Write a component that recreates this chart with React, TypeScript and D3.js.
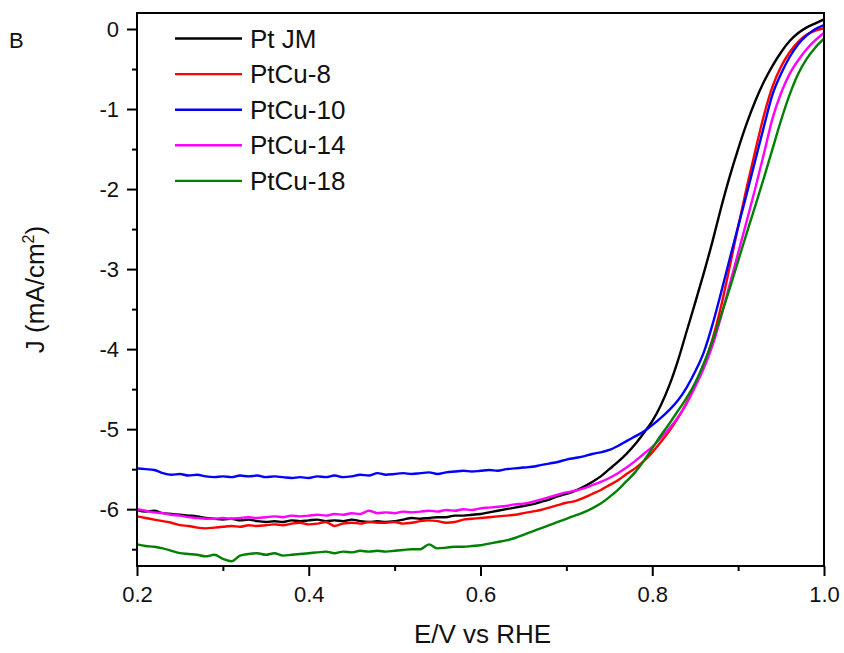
import React, { useEffect, useRef } from 'react'
import * as d3 from 'd3'

// potential axis, 0.20 .. 1.00 V in 0.01 steps
const potentials: number[] = d3.range(81).map((i) => +(0.2 + i * 0.01).toFixed(2))

const seriesNames = ['Pt JM', 'PtCu-8', 'PtCu-10', 'PtCu-14', 'PtCu-18']
const seriesColors = ['#000000', '#ff0000', '#0000ff', '#ff00ff', '#008000']

const ptJM = [
  -6.01, -6.03, -6.02, -6.05, -6.06, -6.07, -6.08, -6.09, -6.11, -6.12,
  -6.13, -6.12, -6.14, -6.13, -6.15, -6.16, -6.15, -6.16, -6.14, -6.15,
  -6.14, -6.13, -6.15, -6.14, -6.15, -6.13, -6.15, -6.16, -6.15, -6.16,
  -6.15, -6.13, -6.11, -6.12, -6.11, -6.1, -6.1, -6.08, -6.08, -6.07,
  -6.06, -6.04, -6.02, -6.0, -5.98, -5.96, -5.94, -5.91, -5.88, -5.84,
  -5.81, -5.77, -5.72, -5.66, -5.59, -5.5, -5.41, -5.31, -5.19, -5.05,
  -4.9, -4.7, -4.45, -4.14, -3.78, -3.42, -3.05, -2.66, -2.24, -1.85,
  -1.5, -1.18, -0.9, -0.66, -0.46, -0.29, -0.15, -0.05, 0.02, 0.07,
  0.12,
]

const ptCu8 = [
  -6.09, -6.11, -6.13, -6.15, -6.17, -6.2, -6.21, -6.23, -6.24, -6.23,
  -6.22, -6.21, -6.22, -6.2, -6.21, -6.2, -6.19, -6.2, -6.18, -6.17,
  -6.19, -6.18, -6.16, -6.21, -6.18, -6.17, -6.18, -6.16, -6.17, -6.17,
  -6.16, -6.18, -6.17, -6.15, -6.14, -6.15, -6.17, -6.16, -6.13, -6.12,
  -6.11, -6.1, -6.09, -6.08, -6.07, -6.05, -6.03, -6.01, -5.98, -5.95,
  -5.92, -5.9, -5.86, -5.81, -5.76, -5.7, -5.64, -5.56, -5.49, -5.4,
  -5.29, -5.16, -5.02, -4.86, -4.67, -4.45, -4.2, -3.88, -3.47, -2.98,
  -2.47, -1.98, -1.52, -1.08, -0.72, -0.47, -0.29, -0.16, -0.07, -0.02,
  0.01,
]

const ptCu10 = [
  -5.49, -5.5, -5.51, -5.55, -5.57, -5.56, -5.58, -5.57, -5.59, -5.6,
  -5.59, -5.6, -5.58, -5.59, -5.58, -5.6, -5.59, -5.6, -5.61, -5.6,
  -5.61, -5.59, -5.6, -5.58, -5.6, -5.59, -5.57, -5.58, -5.55, -5.57,
  -5.56, -5.55, -5.56, -5.55, -5.54, -5.56, -5.54, -5.53, -5.52, -5.53,
  -5.52, -5.51, -5.52, -5.5, -5.49, -5.48, -5.47, -5.45, -5.43, -5.41,
  -5.38, -5.36, -5.34, -5.31, -5.29, -5.26, -5.21, -5.15, -5.09, -5.03,
  -4.95, -4.86, -4.76, -4.64, -4.48, -4.28, -4.04, -3.7, -3.3, -2.88,
  -2.47, -2.06, -1.64, -1.22, -0.82, -0.56, -0.35, -0.19, -0.08, 0.0,
  0.05,
]

const ptCu14 = [
  -6.0, -6.02, -6.04, -6.05, -6.07, -6.08, -6.1, -6.11, -6.12, -6.12,
  -6.11, -6.12, -6.11, -6.1, -6.11, -6.1, -6.09, -6.1, -6.08, -6.09,
  -6.08, -6.07, -6.08, -6.06, -6.07, -6.05, -6.06, -6.02, -6.05, -6.04,
  -6.05, -6.03, -6.04, -6.03, -6.02, -6.03, -6.01, -6.02, -6.0, -6.01,
  -5.99, -5.98, -5.97, -5.96, -5.94, -5.93, -5.91, -5.88, -5.85, -5.82,
  -5.79, -5.77, -5.74, -5.7, -5.66, -5.61, -5.55, -5.48, -5.4, -5.31,
  -5.22, -5.11, -4.99, -4.85, -4.68, -4.47, -4.24, -3.96, -3.6, -3.2,
  -2.8, -2.4, -1.99, -1.56, -1.12, -0.8, -0.56, -0.39, -0.25, -0.14,
  -0.05,
]

const ptCu18 = [
  -6.44, -6.46, -6.47, -6.49, -6.52, -6.55, -6.56, -6.57, -6.59, -6.57,
  -6.62, -6.65, -6.58, -6.56, -6.55, -6.57, -6.55, -6.58, -6.57, -6.56,
  -6.55, -6.54, -6.53, -6.55, -6.53, -6.54, -6.52, -6.53, -6.52, -6.53,
  -6.52, -6.51, -6.5, -6.5, -6.44, -6.49, -6.48, -6.47, -6.47, -6.46,
  -6.45, -6.43, -6.41, -6.39, -6.36, -6.32, -6.28, -6.24, -6.2, -6.16,
  -6.12, -6.08, -6.04, -5.99, -5.93, -5.85, -5.76, -5.65, -5.54, -5.4,
  -5.24, -5.08, -4.93, -4.77, -4.61, -4.42, -4.18, -3.9, -3.58, -3.25,
  -2.9, -2.55, -2.21, -1.86, -1.5, -1.14, -0.82, -0.56, -0.37, -0.23,
  -0.12,
]

const seriesValues = [ptJM, ptCu8, ptCu10, ptCu14, ptCu18]

const xTicks = [0.2, 0.4, 0.6, 0.8, 1.0]
const xMinorTicks = [0.3, 0.5, 0.7, 0.9]
const yTicks = [0, -1, -2, -3, -4, -5, -6]
const yMinorTicks = [-0.5, -1.5, -2.5, -3.5, -4.5, -5.5, -6.5]

const App = () => {
  const ref = useRef<SVGSVGElement>(null)

  useEffect(() => {
    const width = 844
    const height = 653
    const left = 137
    const right = 824
    const top = 13
    const bottom = 566
    const font = 'Arial, "Liberation Sans", sans-serif'

    const svg = d3.select(ref.current)
    svg.selectAll('*').remove()
    svg.attr('width', width).attr('height', height)

    const x = d3.scaleLinear().domain([0.2, 1.0]).range([left, right])
    const y = d3.scaleLinear().domain([-6.71, 0.2]).range([bottom, top])

    svg.append('rect').attr('width', width).attr('height', height).attr('fill', '#fff')

    svg.append('defs').append('clipPath').attr('id', 'plotClip')
      .append('rect')
      .attr('x', left).attr('y', top)
      .attr('width', right - left).attr('height', bottom - top)

    /* curves */
    const line = d3.line<number>()
      .x((_, i) => x(potentials[i]))
      .y((d) => y(d))
      .curve(d3.curveMonotoneX)

    const curves = svg.append('g').attr('clip-path', 'url(#plotClip)')
    seriesValues.forEach((vals, i) => {
      curves.append('path')
        .attr('d', line(vals))
        .attr('fill', 'none')
        .attr('stroke', seriesColors[i])
        .attr('stroke-width', 2.4)
        .attr('stroke-linejoin', 'round')
    })

    /* frame */
    svg.append('rect')
      .attr('x', left).attr('y', top)
      .attr('width', right - left).attr('height', bottom - top)
      .attr('fill', 'none').attr('stroke', '#000').attr('stroke-width', 2)

    /* x axis */
    svg.append('g').attr('transform', `translate(0,${bottom})`)
      .call(d3.axisBottom(x).tickValues(xTicks).tickSize(10).tickPadding(10)
        .tickFormat((d) => (+d).toFixed(1)))
    svg.append('g').attr('transform', `translate(0,${bottom})`)
      .call(d3.axisBottom(x).tickValues(xMinorTicks).tickSize(5).tickFormat(() => ''))

    /* y axis */
    svg.append('g').attr('transform', `translate(${left},0)`)
      .call(d3.axisLeft(y).tickValues(yTicks).tickSize(10).tickPadding(8)
        .tickFormat((d) => `${d}`))
    svg.append('g').attr('transform', `translate(${left},0)`)
      .call(d3.axisLeft(y).tickValues(yMinorTicks).tickSize(5).tickFormat(() => ''))

    svg.selectAll('.domain').remove()
    svg.selectAll('.tick line').attr('stroke', '#000').attr('stroke-width', 2)
    svg.selectAll('.tick text')
      .attr('font-family', font).attr('font-size', 22).attr('fill', '#111')

    /* axis titles */
    svg.append('text')
      .attr('x', (left + right) / 2 + 2).attr('y', 643)
      .attr('text-anchor', 'middle')
      .attr('font-family', font).attr('font-size', 26).attr('fill', '#111')
      .text('E/V vs RHE')

    const yTitle = svg.append('text')
      .attr('transform', `translate(44,${(top + bottom) / 2}) rotate(-90)`)
      .attr('text-anchor', 'middle')
      .attr('font-family', font).attr('font-size', 26).attr('fill', '#111')
    yTitle.append('tspan').text('J (mA/cm')
    yTitle.append('tspan').attr('font-size', 16).attr('dy', -10).text('2')
    yTitle.append('tspan').attr('dy', 10).text(')')

    svg.append('text')
      .attr('x', 9).attr('y', 48)
      .attr('font-family', font).attr('font-size', 22).attr('fill', '#111')
      .text('B')

    /* legend */
    const legend = svg.append('g')
    seriesNames.forEach((name, i) => {
      const ly = 38.5 + i * 35.6
      legend.append('line')
        .attr('x1', 175).attr('x2', 242).attr('y1', ly).attr('y2', ly)
        .attr('stroke', seriesColors[i]).attr('stroke-width', 2.4)
      legend.append('text')
        .attr('x', 250).attr('y', ly + 9)
        .attr('font-family', font).attr('font-size', 26).attr('fill', '#111')
        .text(name)
    })
  }, [])

  return (
    <svg ref={ref} style={{ position: 'absolute', left: 0, top: 0, display: 'block' }} />
  )
}

export default App
